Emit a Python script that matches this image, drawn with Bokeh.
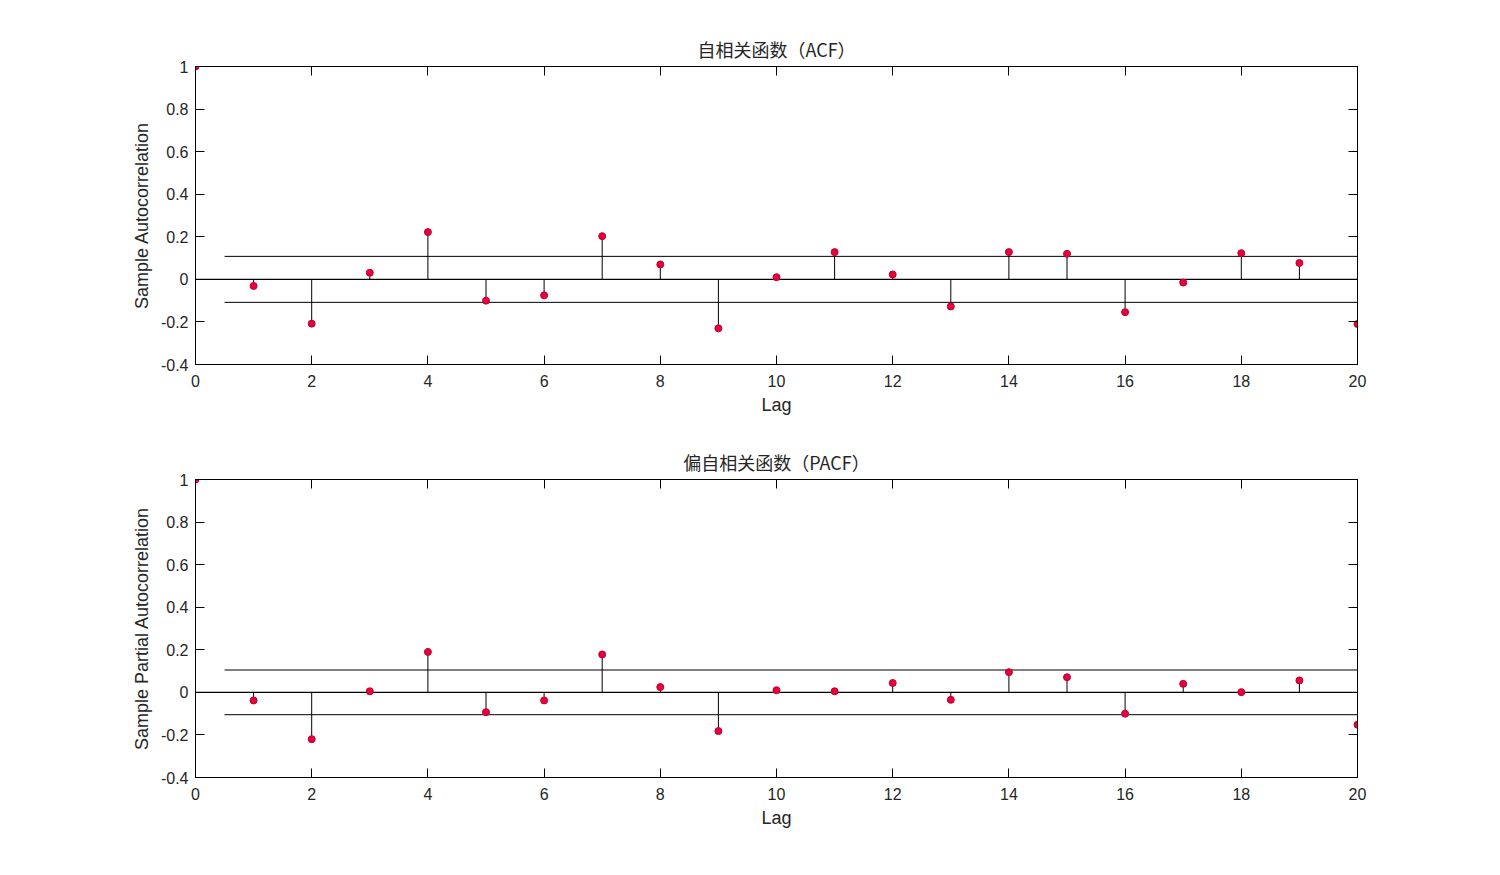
from bokeh.plotting import figure
from bokeh.layouts import column
from bokeh.models import FixedTicker, LinearAxis, CustomJSTickFormatter, Range1d
from bokeh.embed import file_html
from bokeh.resources import INLINE

lags = list(range(0, 21))
acf_vals = [1.0, -0.031, -0.208, 0.031, 0.222, -0.100, -0.075, 0.203, 0.070, -0.230,
            0.010, 0.128, 0.023, -0.127, 0.128, 0.120, -0.154, -0.015, 0.123, 0.077, -0.210]
pacf_vals = [1.0, -0.038, -0.220, 0.005, 0.190, -0.093, -0.038, 0.178, 0.025, -0.182,
             0.010, 0.005, 0.044, -0.035, 0.095, 0.071, -0.100, 0.040, 0.001, 0.056, -0.152]
acf_bound = 0.108
pacf_bound = 0.105
x_ticks = list(range(0, 21, 2))
y_ticks = [-0.4, -0.2, 0, 0.2, 0.4, 0.6, 0.8, 1.0]

FONT = "Liberation Sans"
CJK = "Noto Sans CJK SC"
TXT = "#262626"

fmt_code = "return Number(tick.toFixed(1)).toString();"
blank_code = "return '';"


def make_fig(title, ylabel, vals, bound, height, top):
    p = figure(width=1484, height=height, output_backend="svg", toolbar_location=None,
               x_range=Range1d(0, 20), y_range=Range1d(-0.4, 1.0),
               min_border_left=195, min_border_right=127, min_border_top=top,
               min_border_bottom=56, title=title)
    p.title.align = "center"
    p.title.text_font = CJK
    p.title.text_font_size = "18px"
    p.title.text_font_style = "normal"
    p.title.text_color = TXT
    p.title.offset = 0
    p.xgrid.visible = False
    p.ygrid.visible = False
    p.outline_line_color = "black"
    p.outline_line_width = 1
    p.background_fill_color = "white"
    p.border_fill_color = "white"

    p.xaxis.ticker = FixedTicker(ticks=x_ticks)
    p.yaxis.ticker = FixedTicker(ticks=y_ticks)
    p.yaxis.formatter = CustomJSTickFormatter(code=fmt_code)
    p.xaxis.formatter = CustomJSTickFormatter(code=fmt_code)
    for ax in (p.xaxis[0], p.yaxis[0]):
        ax.major_tick_in = 9
        ax.major_tick_out = 0
        ax.minor_tick_line_color = None
        ax.axis_line_color = "black"
        ax.major_tick_line_color = "black"
        ax.major_label_text_font = FONT
        ax.major_label_text_font_size = "16px"
        ax.major_label_text_color = TXT
        ax.axis_label_text_font = FONT
        ax.axis_label_text_font_size = "18px"
        ax.axis_label_text_font_style = "normal"
        ax.axis_label_text_color = TXT
    p.xaxis.axis_label = "Lag"
    p.xaxis.major_label_standoff = 10
    p.xaxis.axis_label_standoff = 5
    p.yaxis.axis_label = ylabel
    p.yaxis.major_label_standoff = 7
    p.yaxis.axis_label_standoff = 6

    top_ax = LinearAxis(ticker=FixedTicker(ticks=x_ticks),
                        formatter=CustomJSTickFormatter(code=blank_code))
    right_ax = LinearAxis(ticker=FixedTicker(ticks=y_ticks),
                          formatter=CustomJSTickFormatter(code=blank_code))
    for ax in (top_ax, right_ax):
        ax.major_tick_in = 9
        ax.major_tick_out = 0
        ax.minor_tick_line_color = None
        ax.axis_line_color = "black"
        ax.major_tick_line_color = "black"
        ax.major_label_standoff = 0
    p.add_layout(top_ax, "above")
    p.add_layout(right_ax, "right")

    # zero line and confidence bounds
    p.line([0, 20], [0, 0], line_color="black", line_width=1.2)
    p.line([0.5, 20], [bound, bound], line_color="black", line_width=1)
    p.line([0.5, 20], [-bound, -bound], line_color="black", line_width=1)

    p.segment(x0=lags, y0=[0] * len(lags), x1=lags, y1=vals,
              line_color="black", line_width=1)
    p.scatter(lags, vals, size=7, fill_color="#e6003c", line_color="#c00030",
              marker="circle")
    return p


p1 = make_fig("自相关函数（ACF）", "Sample Autocorrelation", acf_vals, acf_bound, 420, 66)
p2 = make_fig("偏自相关函数（PACF）", "Sample Partial Autocorrelation", pacf_vals, pacf_bound, 413, 59)

layout = column(p1, p2, spacing=0)
open("out.html", "w").write(file_html(layout, INLINE))
